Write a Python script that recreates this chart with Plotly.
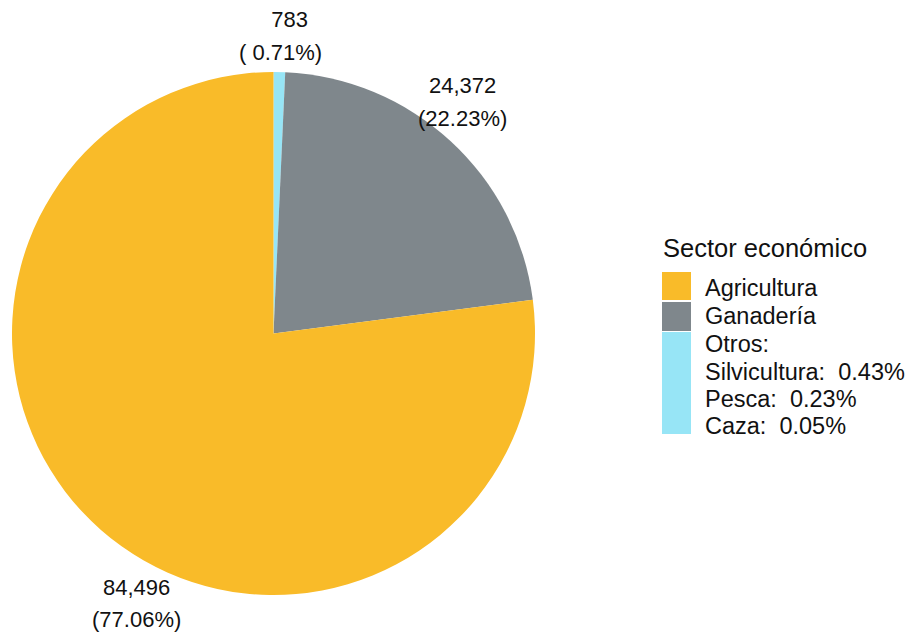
import plotly.graph_objects as go

# ---- data ----
sectors = ["Otros", "Ganadería", "Agricultura"]          # clockwise from 12 o'clock
values = [783, 24372, 84496]
colors = ["#97E5F6", "#7F878C", "#F9BB29"]
legend_order = ["Agricultura", "Ganadería", "Otros"]
otros_names = ["Silvicultura", "Pesca", "Caza"]
otros_pcts = [0.43, 0.23, 0.05]
legend_title = "Sector económico"

PAGE_OFF = 8                      # default body margin of the html page
W, H = 915 - PAGE_OFF, 635 - PAGE_OFF
FONT = "Liberation Sans, Arial, sans-serif"


def px(x):
    return (x - PAGE_OFF) / W


def py(y):
    return 1 - (y - PAGE_OFF) / H


total = sum(values)
pcts = [v / total * 100 for v in values]

fig = go.Figure(go.Pie(
    labels=sectors, values=values, sort=False, direction="clockwise", rotation=0,
    marker=dict(colors=colors, line=dict(width=0)),
    textinfo="none", showlegend=False, hole=0,
    domain=dict(x=[px(12), px(535)], y=[py(595), py(72)]),
))

annotations = []
# slice labels (value on first line, percentage on second)
label_pos = {"Otros": (280, 20, 52), "Ganadería": (462, 86, 118), "Agricultura": (136, 587, 619)}
for s, v, p in zip(sectors, values, pcts):
    xc, y1, y2 = label_pos[s]
    vtxt = f"{v:,}".rjust(6).replace(" ", "\u00a0")
    ptxt = "(" + f"{p:5.2f}".replace(" ", "\u00a0") + "%)"
    for t, yy in ((vtxt, y1), (ptxt, y2)):
        annotations.append(dict(x=px(xc), y=py(yy), xref="paper", yref="paper", text=t,
                                showarrow=False, xanchor="center", yanchor="middle",
                                font=dict(family=FONT, size=22, color="#111111")))

# custom legend
annotations.append(dict(x=px(661), y=py(248), xref="paper", yref="paper", text=legend_title,
                        showarrow=False, xanchor="left", yanchor="middle",
                        font=dict(family=FONT, size=25.5, color="#111111")))
col = dict(zip(sectors, colors))
box_rows = {"Agricultura": (272, 300), "Ganadería": (302, 331), "Otros": (332, 434)}
shapes = []
for s in legend_order:
    y0, y1 = box_rows[s]
    shapes.append(dict(type="rect", xref="paper", yref="paper", x0=px(662), x1=px(691),
                       y0=py(y1), y1=py(y0), fillcolor=col[s], line=dict(width=0)))
legend_lines = ["Agricultura", "Ganadería", "Otros:"] + [
    f"{n}:\u00a0\u00a0{p:.2f}%" for n, p in zip(otros_names, otros_pcts)]
line_y = [288, 316, 344, 371.5, 398.5, 426]
for t, yy in zip(legend_lines, line_y):
    annotations.append(dict(x=px(703), y=py(yy), xref="paper", yref="paper", text=t,
                            showarrow=False, xanchor="left", yanchor="middle",
                            font=dict(family=FONT, size=23.5, color="#111111")))

fig.update_layout(width=W, height=H, margin=dict(l=0, r=0, t=0, b=0),
                  paper_bgcolor="white", plot_bgcolor="white",
                  annotations=annotations, shapes=shapes)
fig.write_html("out.html")
